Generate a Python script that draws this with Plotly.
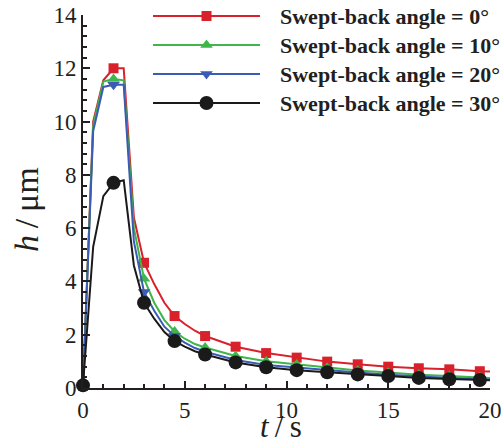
import plotly.graph_objects as go

# Time samples (s) and film thickness h (um) for each swept-back angle
t = [0, 0.5, 1, 1.5, 2, 2.5, 3, 3.5, 4, 4.5, 5, 5.5, 6,
     7.5, 9, 10.5, 12, 13.5, 15, 16.5, 18, 19.5, 20]

h_0deg = [0.1, 10.0, 11.55, 12.0, 12.0, 6.4, 4.7, 3.9, 3.2, 2.7, 2.4, 2.15, 1.95,
          1.55, 1.31, 1.14, 0.99, 0.89, 0.80, 0.74, 0.70, 0.63, 0.62]
h_10deg = [0.1, 9.85, 11.5, 11.6, 11.55, 6.0, 4.1, 3.2, 2.55, 2.12, 1.85, 1.65, 1.52,
           1.2, 1.0, 0.88, 0.76, 0.66, 0.58, 0.50, 0.45, 0.40, 0.38]
h_20deg = [0.1, 9.65, 11.3, 11.38, 11.38, 5.5, 3.6, 2.9, 2.3, 1.95, 1.7, 1.5, 1.36,
           1.05, 0.86, 0.76, 0.66, 0.58, 0.50, 0.43, 0.38, 0.34, 0.32]
h_30deg = [0.1, 5.3, 7.2, 7.7, 7.8, 4.6, 3.2, 2.6, 2.1, 1.76, 1.55, 1.38, 1.26,
           0.96, 0.78, 0.67, 0.59, 0.51, 0.45, 0.38, 0.33, 0.30, 0.29]

labels = ["Swept-back angle = 0°", "Swept-back angle = 10°",
          "Swept-back angle = 20°", "Swept-back angle = 30°"]
colors = ["#d9212b", "#3fb54a", "#3b5cb4", "#1a1a1a"]
symbols = ["square", "triangle-up", "triangle-down", "circle"]
msizes = [10, 11, 11, 14]
series = [h_0deg, h_10deg, h_20deg, h_30deg]

x_title = "<i>t</i>\u2009/\u2009s"
y_title = "<i>h</i>\u2009/\u2009μm"

MARK_STEP = 1.5  # markers every 1.5 s
FONT = "Liberation Serif, Times New Roman, serif"
INK = "#231f20"

fig = go.Figure()

for h, c, s, ms in zip(series, colors, symbols, msizes):
    fig.add_trace(go.Scatter(x=t, y=h, mode="lines",
                             line=dict(color=c, width=2),
                             showlegend=False, cliponaxis=False))
    tm = [ti for ti in t if abs(ti / MARK_STEP - round(ti / MARK_STEP)) < 1e-9]
    hm = [hi for ti, hi in zip(t, h) if ti in tm]
    fig.add_trace(go.Scatter(x=tm, y=hm, mode="markers",
                             marker=dict(color=c, symbol=s, size=ms, line=dict(width=0)),
                             showlegend=False, cliponaxis=False))

# Plot-area edges in pixels; the key is drawn on a pixel-scaled overlay axis
L, R, T, B = 83, 490, 15, 388
key_rows = [16, 45, 74, 103]
key_x0, key_x1, key_text_x = 153, 260, 278
for y, c, s, ms, lab in zip(key_rows, colors, symbols, msizes, labels):
    fig.add_trace(go.Scatter(x=[key_x0, key_x1], y=[y, y], mode="lines",
                             line=dict(color=c, width=2), xaxis="x2", yaxis="y2",
                             showlegend=False, hoverinfo="skip", cliponaxis=False))
    fig.add_trace(go.Scatter(x=[(key_x0 + key_x1) / 2], y=[y], mode="markers",
                             marker=dict(color=c, symbol=s, size=ms, line=dict(width=0)),
                             xaxis="x2", yaxis="y2", showlegend=False,
                             hoverinfo="skip", cliponaxis=False))
    fig.add_annotation(x=key_text_x, y=y, xref="x2", yref="y2", text="<b>" + lab + "</b>",
                       showarrow=False, xanchor="left", yanchor="middle",
                       font=dict(family=FONT, size=22, color=INK))


def px_to_paper(px, py):
    return (px - L) / (R - L), (B - py) / (B - T)


xt_x, xt_y = px_to_paper(281, 426)
yt_x, yt_y = px_to_paper(26, 210)
fig.add_annotation(x=xt_x, y=xt_y, xref="paper", yref="paper", text=x_title,
                   showarrow=False, xanchor="center", yanchor="middle",
                   font=dict(family=FONT, size=31, color=INK))
fig.add_annotation(x=yt_x, y=yt_y, xref="paper", yref="paper", text=y_title,
                   showarrow=False, textangle=-90, xanchor="center", yanchor="middle",
                   font=dict(family=FONT, size=34, color=INK))

axis_common = dict(showline=True, linewidth=2, linecolor=INK, showgrid=False,
                   zeroline=False, ticks="inside", ticklen=7, tickwidth=1.5,
                   tickcolor=INK, ticklabeloverflow="allow", automargin=False,
                   tickfont=dict(family=FONT, size=23, color=INK))

fig.update_layout(
    width=501, height=446,
    margin=dict(l=L, r=501 - R, t=T, b=446 - B),
    paper_bgcolor="white", plot_bgcolor="white",
    xaxis=dict(range=[0, 20], dtick=5, tick0=0,
               minor=dict(dtick=1, ticks="inside", ticklen=4, tickwidth=1.5, tickcolor=INK),
               **axis_common),
    yaxis=dict(range=[0, 14], dtick=2, tick0=0,
               minor=dict(dtick=0.4, ticks="inside", ticklen=4, tickwidth=1.5, tickcolor=INK),
               **axis_common),
    xaxis2=dict(range=[L, R], overlaying="x", anchor="y2", visible=False),
    yaxis2=dict(range=[B, T], overlaying="y", anchor="x2", visible=False),
)

fig.write_html("out.html")
